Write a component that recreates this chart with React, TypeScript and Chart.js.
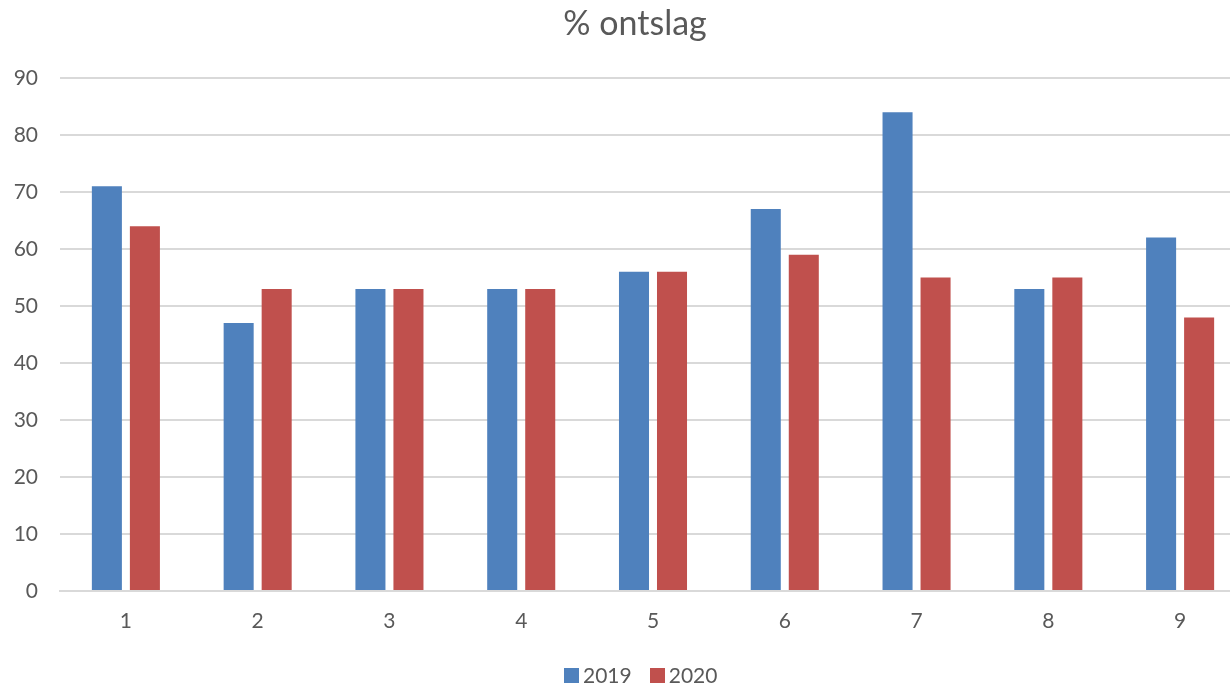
import React, { useEffect, useRef } from "react";
import { Chart, registerables } from "chart.js";

Chart.register(...registerables);

const categories = ["1", "2", "3", "4", "5", "6", "7", "8", "9"];
const values2019 = [71, 47, 53, 53, 56, 67, 84, 53, 62];
const values2020 = [64, 53, 53, 53, 56, 59, 55, 55, 48];
const seriesNames = ["2019", "2020"];
const seriesColors = ["#4F81BD", "#C0504D"];
const titleText = "% ontslag";

const FONT = "Lato, 'Liberation Sans', sans-serif";
const TEXT = "#595959";

export default function App() {
  const ref = useRef<HTMLCanvasElement | null>(null);
  useEffect(() => {
    document.body.style.margin = "0";
    const canvas = ref.current;
    if (!canvas) return;
    const chart = new Chart(canvas, {
      type: "bar",
      data: {
        labels: categories,
        datasets: [
          { label: seriesNames[0], data: values2019, backgroundColor: seriesColors[0] },
          { label: seriesNames[1], data: values2020, backgroundColor: seriesColors[1] },
        ],
      },
      options: {
        animation: false,
        responsive: false,
        maintainAspectRatio: false,
        categoryPercentage: 0.577,
        barPercentage: 0.79,
        layout: { padding: { left: 0, right: 24, top: 78, bottom: 34 } },
        plugins: {
          title: { display: false },
          legend: { display: false },
          tooltip: { enabled: false },
        },
        scales: {
          x: {
            afterFit: (s: any) => { s.height = 60; },
            grid: { display: false },
            border: { color: "#D9D9D9", width: 2 },
            ticks: { color: TEXT, font: { family: FONT, size: 21 }, padding: 10 },
          },
          y: {
            min: 0,
            max: 90,
            afterFit: (s: any) => { s.width = 60; },
            grid: { color: "#D9D9D9", lineWidth: 2, drawTicks: false },
            border: { display: false },
            ticks: { stepSize: 10, color: TEXT, font: { family: FONT, size: 21 }, padding: 22 },
          },
        },
      },
    });
    return () => chart.destroy();
  }, []);

  return (
    <div style={{ position: "relative", width: 1230, height: 685, overflow: "hidden", background: "#fff", fontFamily: FONT, color: TEXT }}>
      <canvas ref={ref} width={1270} height={685} style={{ display: "block", position: "absolute", left: 0, top: 0 }} />
      <div style={{ position: "absolute", left: 0, top: 5, width: 1270, textAlign: "center", fontSize: 34, lineHeight: "34px", whiteSpace: "nowrap" }}>
        {titleText}
      </div>
      <div style={{ position: "absolute", left: 564, top: 664, display: "flex", alignItems: "baseline", fontSize: 21, lineHeight: "21px", whiteSpace: "nowrap" }}>
        {seriesNames.map((name, i) => (
          <span key={name} style={{ display: "inline-flex", alignItems: "baseline", marginRight: i === 0 ? 18 : 0 }}>
            <span style={{ display: "inline-block", width: 15, height: 15, background: seriesColors[i], marginRight: 4 }} />
            <span>{name}</span>
          </span>
        ))}
      </div>
    </div>
  );
}
